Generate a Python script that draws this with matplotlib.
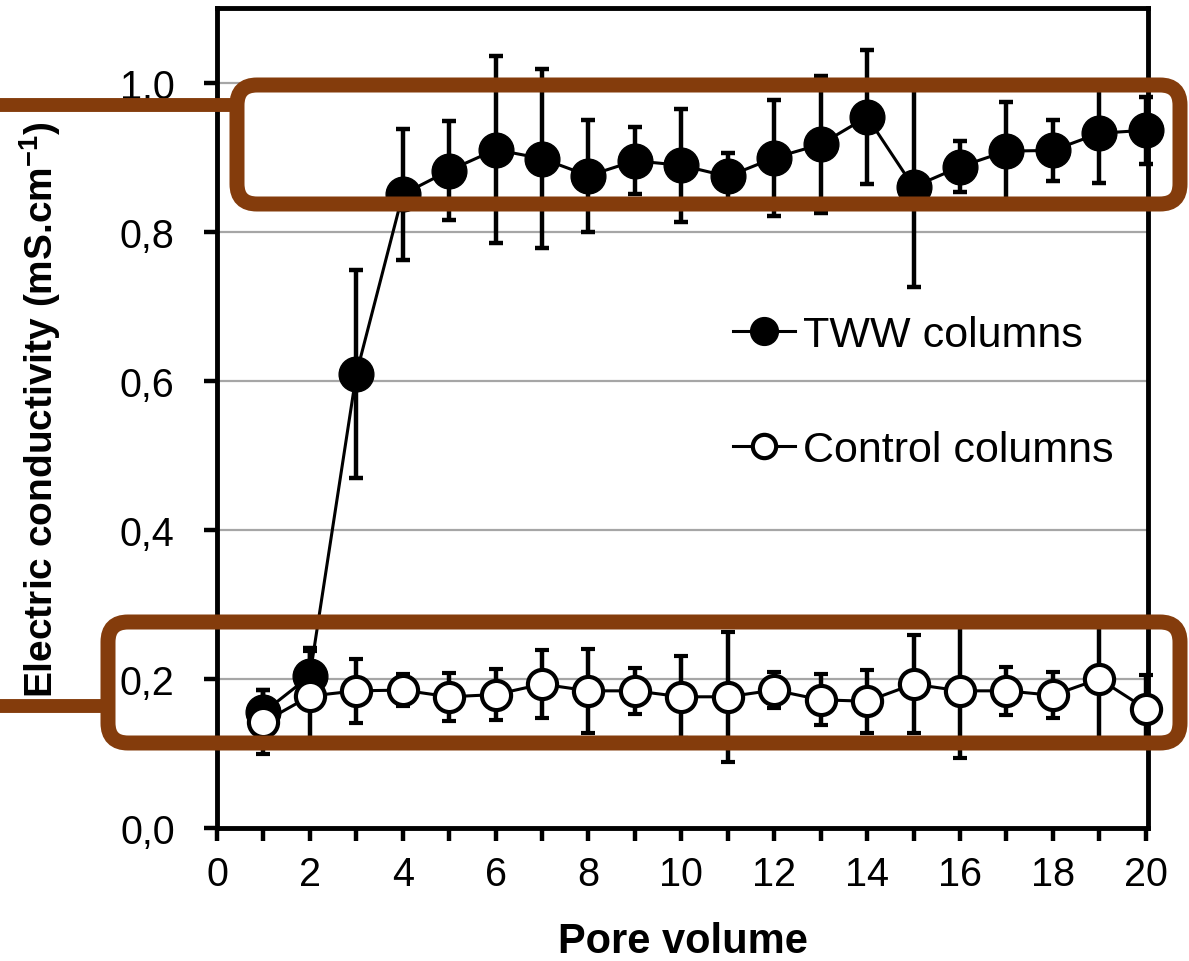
import matplotlib
matplotlib.use("Agg")
import matplotlib.pyplot as plt
from matplotlib.patches import FancyBboxPatch
from matplotlib.lines import Line2D
from matplotlib.transforms import IdentityTransform
from matplotlib.ticker import FixedLocator, FixedFormatter, MultipleLocator

plt.rcParams['font.family'] = ['Liberation Sans', 'DejaVu Sans']
plt.rcParams['mathtext.fontset'] = 'custom'
plt.rcParams['mathtext.rm'] = 'Liberation Sans'
plt.rcParams['mathtext.bf'] = 'Liberation Sans:bold'

# ---- data ----
pore_volume = list(range(1, 21))
tww_mean = [0.155, 0.204, 0.609, 0.850, 0.882, 0.910, 0.898, 0.875, 0.895, 0.889,
            0.874, 0.899, 0.917, 0.954, 0.860, 0.887, 0.908, 0.909, 0.932, 0.936]
tww_err = [0.030, 0.038, 0.140, 0.088, 0.066, 0.125, 0.120, 0.075, 0.045, 0.076,
           0.031, 0.078, 0.092, 0.090, 0.134, 0.034, 0.066, 0.041, 0.067, 0.045]
ctrl_mean = [0.142, 0.177, 0.184, 0.185, 0.176, 0.179, 0.193, 0.184, 0.184, 0.176,
             0.176, 0.185, 0.172, 0.170, 0.193, 0.184, 0.184, 0.178, 0.200, 0.160]
ctrl_err = [0.043, 0.060, 0.043, 0.021, 0.032, 0.034, 0.046, 0.056, 0.031, 0.055,
            0.087, 0.024, 0.034, 0.042, 0.066, 0.090, 0.032, 0.031, 0.080, 0.045]
y_ticks = [0.0, 0.2, 0.4, 0.6, 0.8, 1.0]
y_tick_labels = ["0,0", "0,2", "0,4", "0,6", "0,8", "1,0"]
x_ticks = list(range(0, 21, 2))
x_tick_labels = [str(v) for v in x_ticks]
series_labels = ["TWW columns", "Control columns"]

W, H = 1189, 962
fig = plt.figure(figsize=(W / 100, H / 100), dpi=100)
ax = fig.add_axes([217 / W, 1 - 829 / H, (1148 - 217) / W, (829 - 9) / H])

ax.grid(axis='y', color='#a6a6a6', linewidth=1.6, zorder=0)
ax.set_axisbelow(True)

eb1 = ax.errorbar(pore_volume, tww_mean, yerr=tww_err, fmt='o', linestyle='-',
                  color='black', linewidth=2.2, markersize=25, markerfacecolor='black',
                  markeredgecolor='black', ecolor='black', elinewidth=3.2, capsize=5.2,
                  capthick=3.2, zorder=3, label=series_labels[0])
eb2 = ax.errorbar(pore_volume, ctrl_mean, yerr=ctrl_err, fmt='o', linestyle='-',
                  color='black', linewidth=2.2, markersize=21, markerfacecolor='white',
                  markeredgecolor='black', markeredgewidth=3, ecolor='black',
                  elinewidth=3.2, capsize=5.2, capthick=3.2, zorder=4,
                  label=series_labels[1])
for eb in (eb1, eb2):
    eb[0].set_clip_on(False)
    for c in eb[1]:
        c.set_clip_on(False)
    for c in eb[2]:
        c.set_clip_on(False)

ax.set_xlim(0, 20.05)
ax.set_ylim(0, 1.1)
ax.xaxis.set_major_locator(FixedLocator(x_ticks))
ax.xaxis.set_major_formatter(FixedFormatter(x_tick_labels))
ax.xaxis.set_minor_locator(MultipleLocator(1))
ax.yaxis.set_major_locator(FixedLocator(y_ticks))
ax.yaxis.set_major_formatter(FixedFormatter(y_tick_labels))

for s in ax.spines.values():
    s.set_linewidth(3.5)
    s.set_color('black')
    s.set_zorder(2.5)
ax.tick_params(axis='both', which='both', direction='out', width=3.2, length=9.5,
               color='black', labelsize=28.5)
ax.tick_params(axis='y', pad=21)
ax.tick_params(axis='x', which='major', pad=10)
ax.tick_params(axis='x', which='minor', length=9.5)

ax.set_xlabel("Pore volume", fontsize=30, fontweight='bold')
ax.xaxis.set_label_coords(0.5, -0.113)
ax.set_ylabel(r"Electric conductivity (mS.cm$^{\mathbf{-1}}$)", fontsize=28,
              fontweight='bold')
ax.yaxis.set_label_coords(-0.165, 0.511)

ax.legend(handles=[eb1[0], eb2[0]], labels=series_labels, loc='upper left',
          bbox_to_anchor=(0.554, 0.626), frameon=False, fontsize=31,
          borderpad=0, borderaxespad=0, labelspacing=1.75, handlelength=1.45,
          handletextpad=0.19, markerscale=0.8)

# ---- brown highlight boxes (pixel coordinates, origin bottom-left) ----
brown = '#843C0C'
lw_box = 10.8
boxes = [
    # (left, bottom, right, top, connector_y)
    (237, H - 205, 1180, H - 86, H - 106),
    (108, H - 744, 1180, H - 623, H - 707),
]
for (l, b, r, t, cy) in boxes:
    p = FancyBboxPatch((l, b), r - l, t - b,
                       boxstyle="round,pad=0,rounding_size=20",
                       transform=IdentityTransform(), facecolor='none',
                       edgecolor=brown, linewidth=lw_box, zorder=10)
    fig.add_artist(p)
    ln = Line2D([0, l], [cy, cy], transform=IdentityTransform(), color=brown,
                linewidth=10, solid_capstyle='butt', zorder=10)
    fig.add_artist(ln)

fig.savefig("out.png", dpi=100)
